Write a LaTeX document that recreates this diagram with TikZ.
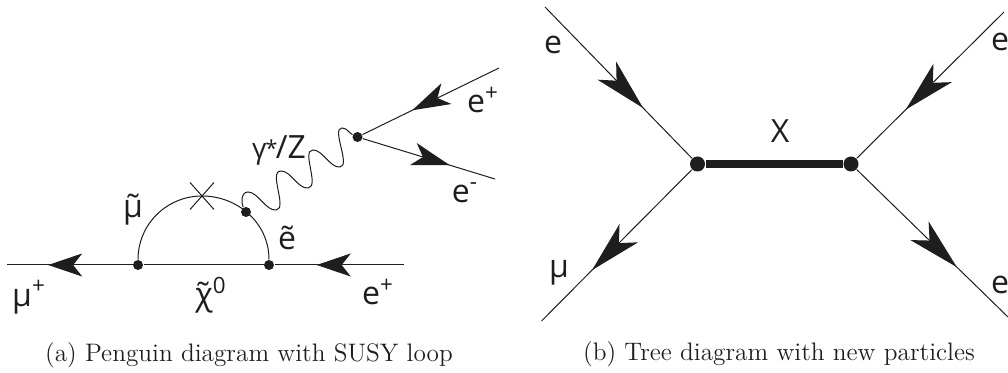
\documentclass[tikz,border=0pt]{standalone}
\usepackage{fontspec}
\setsansfont{Open Sans}
\usepackage{tikz}
\usetikzlibrary{arrows.meta,shapes.misc,decorations.markings}
\definecolor{inkdark}{HTML}{1E1E1E}
\begin{document}
\begin{tikzpicture}[
    x=0.5pt, y=-0.5pt,
    line width=0.5pt,
    draw=inkdark,
    every node/.style={text=inkdark},
    lbl/.style={font=\fontsize{16}{18}\selectfont\sffamily, inner sep=0pt},
    caption/.style={font=\fontsize{12.65}{15}\selectfont, inner sep=0pt},
    dot/.style={circle, fill=inkdark, inner sep=0pt, minimum size=5pt},
    bigdot/.style={dot, minimum size=7.5pt},
    flow/.style={postaction={decorate}, decoration={markings, mark=at position #1 with {\arrow{Stealth[length=17pt, width=11.5pt, inset=4.5pt]}}}},
    longflow/.style={postaction={decorate}, decoration={markings, mark=at position #1 with {\arrow{Stealth[length=19pt, width=11.5pt, inset=5pt]}}}},
    bigflow/.style={postaction={decorate}, decoration={markings, mark=at position #1 with {\arrow{Stealth[length=26pt, width=13pt, inset=7pt]}}}}
]
\useasboundingbox (0,0) rectangle (1008,373);

% penguin
\node[dot] (vmu) at (138,265) {};
\node[dot] (ve) at (269,265) {};
\node[dot] (vloop) at (246,212) {};
\node[dot] (vz) at (357.5,137) {};
\node[draw, cross out, inner sep=0pt, minimum width=11.5pt, minimum height=13pt] (mix) at (202,196) {};
\coordinate (muout) at (7,265);
\coordinate (ein) at (404,265);
\coordinate (eplus) at (499,68);
\coordinate (eminus) at (495,179);

\draw[flow=0.672] (vmu) -- (muout);
\draw[flow=0.674] (ein) -- (ve);
\draw (vmu) -- (ve);
\draw (vmu) to[out=90, in=180] (mix.center) to[out=0, in=90] (ve);
\draw[longflow=0.636] (eplus) -- (vz);
\draw[longflow=0.658] (vz) -- (eminus);
\draw (vloop) .. controls (241,203) and (241,192) .. (248,192)
  .. controls (258,192) and (266,211) .. (276,210)
  .. controls (288,209) and (268,171) .. (281,171)
  .. controls (291,171) and (298,189) .. (308,188)
  .. controls (320,187) and (301,150) .. (313,150)
  .. controls (323,150) and (330,168) .. (340,167)
  .. controls (351,166) and (331,128) .. (342,128)
  .. controls (347,128) and (349,133) .. (vz);

\node[lbl] (lmu) at (29,297) {μ\textsuperscript{+}};
\node[lbl] (lsmu) at (133,210) {\~{μ}};
\node[lbl] (lchi) at (211,295) {\~{χ}\textsuperscript{0}};
\node[lbl] (lse) at (287,238) {\~{e}};
\node[lbl] (le) at (378,292) {e\textsuperscript{+}};
\node[lbl] (lz) at (279,150) {{\fontsize{14}{16}\selectfont γ}\kern-0.6pt{\fontsize{11}{13}\selectfont\raisebox{1pt}{*}}\kern-0.8pt/Z};
\node[lbl] (lep) at (483,100) {e\textsuperscript{+}};
\node[lbl] (lem) at (465,193) {e\textsuperscript{-}};
\node[caption] (capa) at (249,355) {(a) Penguin diagram with SUSY loop};

% tree
\node[bigdot] (vl) at (697.5,164) {};
\node[bigdot] (vr) at (851,164) {};
\coordinate (tl) at (545,7);
\coordinate (tr) at (1004,12);
\coordinate (bl) at (541.5,321);
\coordinate (br) at (1008,317);

\draw[bigflow=0.668] (tl) -- (vl);
\draw[bigflow=0.669] (tr) -- (vr);
\draw[bigflow=0.664] (vl) -- (bl);
\draw[bigflow=0.662] (vr) -- (br);
\draw[line width=4pt] (vl) -- (vr);

\node[lbl] (ltl) at (553,45) {e};
\node[lbl] (ltr) at (1000,42) {e};
\node[lbl] (lbl) at (559,273) {μ};
\node[lbl] (lbr) at (1000,285) {e};
\node[lbl] (lx) at (780,131) {X};
\node[caption] (capb) at (779,354) {(b) Tree diagram with new particles};
\end{tikzpicture}
\end{document}
